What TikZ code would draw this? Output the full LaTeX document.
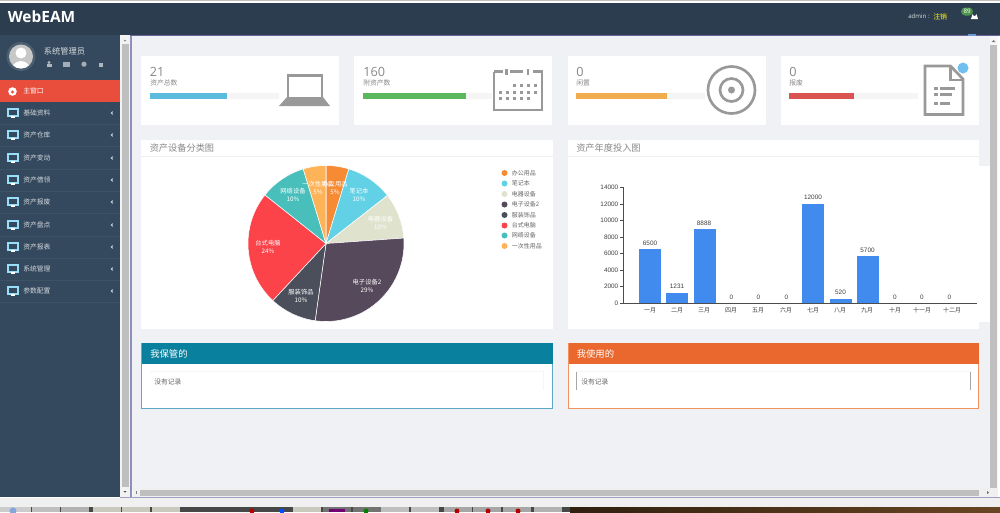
\documentclass[tikz,border=0pt]{standalone}
\usepackage{fontspec}
\setmainfont{Noto Sans CJK SC}
\newfontfamily\latinf{Liberation Sans}
\newfontfamily\opensf{Open Sans}
\definecolor{headc}{HTML}{2B3D4F}
\definecolor{sidec}{HTML}{34495E}
\definecolor{bgc}{HTML}{F0F1F5}
\definecolor{iconc}{HTML}{999999}
\definecolor{barc}{HTML}{418BEF}
\definecolor{txtc}{HTML}{888888}
\definecolor{pa}{HTML}{F68B33}
\definecolor{pb}{HTML}{62D1E6}
\definecolor{pc}{HTML}{DFE2CC}
\definecolor{pd}{HTML}{57495C}
\definecolor{pe}{HTML}{4A4F5B}
\definecolor{pf}{HTML}{FB4349}
\definecolor{pg}{HTML}{48BFBB}
\definecolor{ph}{HTML}{FEB358}
\definecolor{activec}{HTML}{E94E3D}
\definecolor{tealh}{HTML}{0A809F}
\definecolor{orgh}{HTML}{EA682D}
\tikzset{
  x=0.75pt,y=-0.75pt,
  card/.style={fill=white,draw=none},
  menutext/.style={text=white!78!sidec,font=\fontsize{5.1}{6}\selectfont,anchor=west,inner sep=0pt},
  cardnum/.style={text=txtc,font=\opensf\fontsize{9.5}{10}\selectfont,anchor=west,inner sep=0pt},
  cardsub/.style={text=txtc,font=\fontsize{5.1}{6}\selectfont,anchor=west,inner sep=0pt},
  paneltitle/.style={text=txtc,font=\fontsize{6.9}{8}\selectfont,anchor=west,inner sep=0pt},
  pielab/.style={text=white,font=\fontsize{4.7}{6.5}\selectfont,align=center,inner sep=0pt},
  legtext/.style={text=black!60,font=\fontsize{4.5}{6}\selectfont,anchor=west,inner sep=0pt},
  ticktext/.style={text=black!75,font=\latinf\fontsize{4.8}{6}\selectfont,inner sep=0pt},
  headtext/.style={text=white,font=\fontsize{7}{9}\selectfont,anchor=west,inner sep=0pt},
  bodytext/.style={text=black!60,font=\fontsize{5.1}{6}\selectfont,anchor=west,inner sep=0pt},
  icon/.style={draw=iconc,line width=2pt},
  monitor/.pic={\draw[draw=cyan!40!white,line width=.8pt,fill=sidec] (-5,-4) rectangle (5,3);\fill[white] (-2,3) rectangle (2,5);}
}
\newcommand{\menuitem}[3]{%
  \pic at (13,#1) {monitor};
  \node[menutext] (#3) at (23,#1) {#2};
  \fill[white!75!sidec] (110.5,#1) -- (112.5,#1-1.8) -- (112.5,#1+1.8) -- cycle;
  \draw[draw=white!5!sidec,line width=.4pt] (0,#1+11) -- (120,#1+11);}
\newcommand{\slicep}[3]{\fill[#3,draw=white,line width=.4pt] (326,243.5) -- ++({sin(#1)*78},{-cos(#1)*78}) arc[start angle={#1-90},end angle={#2-90},radius=78] -- cycle;}
\newcommand{\legenditem}[3]{\fill[#2] (504.5,#1) circle (3);\node[legtext] at (511.5,#1) {#3};}
\begin{document}
\begin{tikzpicture}
\useasboundingbox (0,0) rectangle (1000,512);
\fill[white] (0,0) rectangle (1000,512);
\fill[bgc] (130,36) rectangle (998,490);
% header
\fill[headc] (0,3) rectangle (1000,35);
\fill[black!25] (0,0) rectangle (1000,1);
\draw[draw=blue!20!gray,line width=.6pt] (120,35) -- (1000,35);
\node[text=white,font=\opensf\bfseries\fontsize{11.6}{13}\selectfont,anchor=west,inner sep=0pt] (logo) at (7.5,17) {WebEAM};
\node[text=white!85!headc,font=\opensf\fontsize{4.6}{6}\selectfont,anchor=west,inner sep=0pt] (adm) at (908,16.5) {admin :};
\node[text=yellow!90!white,font=\fontsize{5.2}{6}\selectfont,anchor=west,inner sep=0pt] (quit) at (933,16.5) {注销};
\fill[white] (971,19) -- (972.5,14) arc[start angle=180,end angle=0,radius=2] -- (978,19) -- cycle;
\fill[green!40!black!70!white,rounded corners=3pt] (961,7.5) rectangle (973,15.5);
\node[text=white,font=\opensf\fontsize{4.6}{5}\selectfont,inner sep=0pt] (num) at (967,11.5) {89};
\fill[cyan!50!blue!60!white] (968,34) rectangle (976,36);
% sidebar
\fill[sidec] (0,35) rectangle (120,497);
\fill[white!12!sidec] (21,56.5) circle (14.5);
\fill[black!22] (21,56.5) circle (12);
\begin{scope}
\clip (21,56.5) circle (12);
\fill[white] (21,53) circle (5.5);
\fill[white] (21,72) ellipse (10 and 11);
\end{scope}
\node[text=white!80!sidec,font=\fontsize{6.2}{7}\selectfont,anchor=west,inner sep=0pt] (user) at (43.5,51.5) {系统管理员};
\fill[white!60!sidec] (49,62.5) circle (1.6);\fill[white!60!sidec] (46.5,66.5) rectangle (51.5,64);
\fill[white!55!sidec] (62.5,62) rectangle (70,66.5);
\fill[white!55!sidec] (84,64.2) circle (2.6);
\fill[white!60!sidec] (99,62.5) rectangle (103,66.5);
\fill[activec] (0,80) rectangle (120,102);
\fill[white] (12.5,91.5) circle (4.3);
\fill[activec] (12.5,92) circle (1.6);
\node[text=white,font=\fontsize{5.1}{6}\selectfont,anchor=west,inner sep=0pt] (m0) at (23,91) {主窗口};
\menuitem{113}{基础资料}{m1}
\menuitem{135}{资产仓库}{m2}
\menuitem{158}{资产变动}{m3}
\menuitem{180}{资产借领}{m4}
\menuitem{202}{资产报废}{m5}
\menuitem{225}{资产盘点}{m6}
\menuitem{247}{资产报表}{m7}
\menuitem{269}{系统管理}{m8}
\menuitem{291}{参数配置}{m9}
% left scroll
\fill[black!5] (120,35) rectangle (130,497);
\fill[black!25] (122,44) rectangle (128.5,487);
\draw[draw=blue!25!gray!70,line width=1pt] (131,36) -- (131,497);
\fill[black!50] (123.5,41) -- (125,39.5) -- (126.5,41) -- cycle;
\fill[black!70] (123.5,491) -- (125,492.5) -- (126.5,491) -- cycle;
% cards
\fill[card] (141,56) rectangle (339,124.5);
\fill[card] (354,56) rectangle (552,124.5);
\fill[card] (568,56) rectangle (766,124.5);
\fill[card] (781,56) rectangle (979,124.5);
\foreach \x/\w/\cc/\tw in {150/129/5BBBDD/77,363/129/5CB85C/103,576/129/F0AD4E/90.5,789/129/D9534F/65}{
  \definecolor{tmp}{HTML}{\cc}
  \fill[black!4] (\x,93) rectangle ++(\w,5.5);
  \fill[tmp] (\x,93) rectangle ++(\tw,5.5);
}
\node[cardnum] (c1) at (149.5,71.5) {21};
\node[cardsub] (s1) at (150,83) {资产总数};
\node[cardnum] (c2) at (363,71.5) {160};
\node[cardsub] (s2) at (363,83) {附资产数};
\node[cardnum] (c3) at (576,71.5) {0};
\node[cardsub] (s3) at (576,83) {闲置};
\node[cardnum] (c4) at (789,71.5) {0};
\node[cardsub] (s4) at (789,83) {报废};
% laptop
\draw[icon] (288,75.5) rectangle (322,98);
\fill[iconc] (279,106) -- (287,97) -- (323,97) -- (330,106) -- cycle;
% calendar
\draw[icon] (494,71.5) -- (494,110) -- (542,110) -- (542,71.5) -- (533,71.5);
\draw[icon] (494,71.5) -- (503,71.5);
\draw[icon] (510,71.5) -- (523,71.5);
\draw[icon] (506.5,69) -- (506.5,75);
\draw[icon] (528,69) -- (528,75);
\foreach \x in {514,521,528,535}{\fill[iconc] (\x-1.5,84) rectangle ++(3,3);}
\foreach \x in {500,507,514,521,528,535}{\fill[iconc] (\x-1.5,91) rectangle ++(3,3);}
\foreach \x in {500,507,514,521,528}{\fill[iconc] (\x-1.5,97) rectangle ++(3,3);}
% target
\draw[icon] (731.5,90) circle (23.5);
\draw[icon] (731.5,90) circle (11.5);
\fill[iconc] (731.5,90) circle (3.5);
% doc
\draw[icon] (925,66) -- (950.5,66) -- (963,79) -- (963,114.5) -- (925,114.5) -- cycle;
\draw[iconc,line width=1.6pt] (950.5,66) -- (950.5,80) -- (963,80);
\foreach \yy/\xa in {88.5/955,94/952,103/950}{\fill[iconc] (933.5,\yy-1.5) rectangle ++(4,3);\fill[iconc] (940,\yy-1.5) -- (\xa,\yy-1.5) -- (\xa,\yy+1.5) -- (940,\yy+1.5) -- cycle;}
\definecolor{dotc}{HTML}{70BFEE}
\fill[dotc] (963,68) circle (5.5);
% panels
\fill[card] (141,140) rectangle (553,329);
\fill[card] (568,140) rectangle (979,329);
\fill[card] (979,166) rectangle (990,322);
\draw[black!6,line width=.5pt] (141,156.5) -- (553,156.5);
\draw[black!6,line width=.5pt] (568,156.5) -- (979,156.5);
\node[paneltitle] (t1) at (149.5,148.5) {资产设备分类图};
\node[paneltitle] (t2) at (576,148.5) {资产年度投入图};
% pie
\slicep{0}{17}{pa}
\slicep{17}{52}{pb}
\slicep{52}{86}{pc}
\slicep{86}{188}{pd}
\slicep{188}{223}{pe}
\slicep{223}{308.5}{pf}
\slicep{308.5}{343}{pg}
\slicep{343}{360}{ph}
\node[pielab] (p1) at (335,188) {办公用品\\5\%};
\node[pielab] (p2) at (359,195) {笔记本\\10\%};
\node[pielab] (p3) at (380.5,223) {电器设备\\10\%};
\node[pielab] (p4) at (367,286) {电子设备2\\29\%};
\node[pielab] (p5) at (301,296) {服装饰品\\10\%};
\node[pielab] (p6) at (268,247) {台式电脑\\24\%};
\node[pielab] (p7) at (293,195) {网络设备\\10\%};
\node[pielab] (p8) at (318,188) {一次性用品\\5\%};
\legenditem{173}{pa}{办公用品}
\legenditem{183.5}{pb}{笔记本}
\legenditem{194}{pc}{电器设备}
\legenditem{204.5}{pd}{电子设备2}
\legenditem{215}{pe}{服装饰品}
\legenditem{225.5}{pf}{台式电脑}
\legenditem{235.5}{pg}{网络设备}
\legenditem{246}{ph}{一次性用品}
% bars
\foreach \aa/\bb/\tt in {639/661/249,666/688/293,694/716/229,802/824/204,830/852/298.5,857/879/256}{\fill[barc] (\aa,\tt) rectangle (\bb,303);}
\draw[black!70,line width=.6pt] (623,187) -- (623,303) -- (977,303);
\foreach \v/\yy in {14000/187,12000/204,10000/220,8000/237,6000/253.5,4000/270,2000/286.5,0/303}{
  \draw[black!70,line width=.4pt] (620,\yy) -- (623,\yy);
  \node[ticktext,anchor=east] at (618.5,\yy) {\v};}
\foreach \lb/\x in {一月/650,二月/677,三月/704,四月/731,五月/758,六月/786,七月/813,八月/840,九月/867,十月/895,十一月/922,十二月/952}{
  \node[ticktext,font=\fontsize{4.5}{6}\selectfont] at (\x,310.5) {\lb};}
\foreach \lb/\x/\yy in {6500/650/243,1231/677/286.5,8888/704/223.5,0/731.5/297,0/758.5/297,0/786.5/297,12000/813/197.5,520/840.5/292.5,5700/867.5/250,0/895/297,0/922/297,0/949.5/297}{
  \node[ticktext] at (\x,\yy) {\lb};}
% bottom panels
\definecolor{tealb}{HTML}{5BA9C4}
\definecolor{orgb}{HTML}{F0935F}
\fill[white,draw=tealb,line width=.6pt] (141.5,343) rectangle (552.5,408);
\fill[white,draw=orgb,line width=.6pt] (568.5,343) rectangle (978.5,408);
\fill[tealh] (141.5,343) rectangle (552.5,364);
\fill[orgh] (568.5,343) rectangle (978.5,364);
\node[headtext] (h1) at (150,354) {我保管的};
\node[headtext] (h2) at (576.5,354) {我使用的};
\draw[black!4,line width=.5pt] (150,371.5) -- (543.5,371.5) -- (543.5,390);
\draw[black!4,line width=.5pt] (576,371.5) -- (970.5,371.5);
\draw[black!35,line width=.5pt] (576.5,372) -- (576.5,390);
\draw[black!35,line width=.5pt] (970.5,372) -- (970.5,390);
\node[bodytext] (b1) at (154,381.5) {没有记录};
\node[bodytext] (b2) at (581,381.5) {没有记录};
% right scroll
\fill[black!3] (990,36) rectangle (998,490);
\fill[black!25] (990,45) rectangle (997,490);
\fill[black!50] (991.5,42) -- (993.5,40) -- (995.5,42) -- cycle;
% bottom scroll
\fill[black!6] (133,488) rectangle (998,497);
\fill[black!25] (140,489.5) rectangle (979,496);
\draw[black!50,line width=.5pt] (136,491) -- (136,494);
\fill[black!60] (987,491) -- (989,492.5) -- (987,494) -- cycle;
\draw[blue!25!gray!60,line width=.6pt] (120,497.3) -- (1000,497.3);
% taskbar
\fill[black!6] (0,498) rectangle (1000,507);
\fill[black!72] (0,507) rectangle (570,512);
\fill[black!20] (0,507) rectangle (31,512);
\shade[left color=black!75!brown,right color=brown!55!black] (570,507) rectangle (1000,512);
\foreach \x/\cc in {32/black!25,61/black!30,93/yellow!20!black!30,122/yellow!20!black!30,152/yellow!20!black!30,293/yellow!20!black!30,323/black!55,353/black!55,381/black!25,411/black!25,444/black!35,473/black!35,503/black!35,534/black!30}{
  \fill[\cc] (\x,507) rectangle ++(28,5);}
\fill[cyan!50!blue!50!white] (13,511) circle (3.5);
\fill[violet!90!black] (329,509) rectangle ++(16,3);
\fill[red!70!black] (252,511) circle (2.5);
\fill[blue!70!cyan] (282,511) circle (2.5);
\fill[red!70!black] (457,511) circle (2.5);
\fill[red!70!black] (488,511) circle (2.5);
\fill[red!70!black] (518,511) circle (2.5);
\fill[green!50!black] (366,511) circle (2.5);
\end{tikzpicture}
\end{document}
